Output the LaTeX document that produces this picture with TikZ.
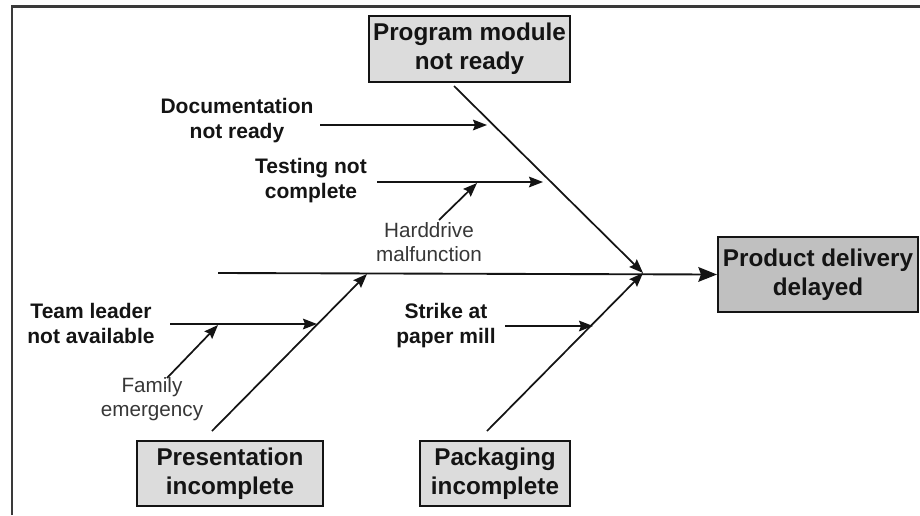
\documentclass[tikz,border=0pt]{standalone}
\usepackage{fontspec}
\setmainfont{Liberation Sans}
\usetikzlibrary{arrows.meta}
\definecolor{boxlight}{HTML}{DCDCDC}
\definecolor{boxdark}{HTML}{C0C0C0}
\definecolor{ink}{HTML}{141414}
\definecolor{framegray}{HTML}{3A3A3A}
\tikzset{
  effectbox/.style={draw=ink, line width=1.5pt, fill=boxlight, inner sep=0pt,
    align=center, text=ink, font=\fontsize{18.2pt}{21.75pt}\selectfont\bfseries},
  causelabel/.style={inner sep=0pt, align=center, text=ink,
    font=\fontsize{15.75pt}{18.75pt}\selectfont\bfseries},
  subcause/.style={inner sep=0pt, align=center, text=ink!85,
    font=\fontsize{15.5pt}{18pt}\selectfont},
  bone/.style={draw=ink, line width=1.3pt, -{Stealth[length=10.5pt,width=8pt,inset=1.5pt]}},
  mainbone/.style={draw=ink, line width=1.4pt, -{Stealth[length=14pt,width=11pt,inset=2pt]}},
}
\begin{document}
\begin{tikzpicture}[x=0.75pt, y=-0.75pt]
\useasboundingbox (0,0) rectangle (920,515);

% page frame (left and top edges)
\draw[framegray, line width=1.6pt] (12,515) -- (12,6.5) -- (920,6.5);

% effect and category boxes
\node[effectbox, minimum width=201*0.75pt, minimum height=66*0.75pt] (prog) at (469.5,49)
  {Program module\\not ready};
\node[effectbox, fill=boxdark, minimum width=200*0.75pt, minimum height=75*0.75pt] (prod) at (818,274.5)
  {Product delivery\\delayed};
\node[effectbox, minimum width=186*0.75pt, minimum height=65*0.75pt] (pres) at (230,473.5)
  {Presentation\\incomplete};
\node[effectbox, minimum width=150*0.75pt, minimum height=65*0.75pt] (pack) at (495,473.5)
  {Packaging\\incomplete};

% cause labels
\node[causelabel] (doc)   at (237,120.5) {Documentation\\not ready};
\node[causelabel] (test)  at (311,180.5) {Testing not\\complete};
\node[causelabel] (team)  at (91,323.5)  {Team leader\\not available};
\node[causelabel] (strike) at (446,325.5) {Strike at\\paper mill};
\node[subcause]   (hdd)   at (429,242)   {Harddrive\\malfunction};
\node[subcause]   (fam)   at (152,399)   {Family\\emergency};

% bone end points
\coordinate (J)     at (643,273);
\coordinate (spine) at (218,273);
\coordinate (progS) at (454,86);
\coordinate (presS) at (212,431);
\coordinate (presE) at (367,274);
\coordinate (packS) at (487,431);
\coordinate (docS)  at (320,125);
\coordinate (docE)  at (487,125);
\coordinate (testS) at (377,182);
\coordinate (testE) at (543,182);
\coordinate (hddS)  at (439,220);
\coordinate (hddE)  at (477,183);
\coordinate (teamS) at (170,324);
\coordinate (teamE) at (317,324);
\coordinate (famS)  at (167,378);
\coordinate (famE)  at (218,325);
\coordinate (strS)  at (505,326);
\coordinate (strE)  at (593,326);

% spine
\draw[mainbone] (spine) -- (prod.west);

% category bones
\draw[bone] (progS) -- (J);
\draw[bone] (packS) -- (J);
\draw[bone] (presS) -- (presE);

% cause arrows
\draw[bone] (docS) -- (docE);
\draw[bone] (testS) -- (testE);
\draw[bone] (hddS) -- (hddE);
\draw[bone] (teamS) -- (teamE);
\draw[bone] (famS) -- (famE);
\draw[bone] (strS) -- (strE);
\end{tikzpicture}
\end{document}
